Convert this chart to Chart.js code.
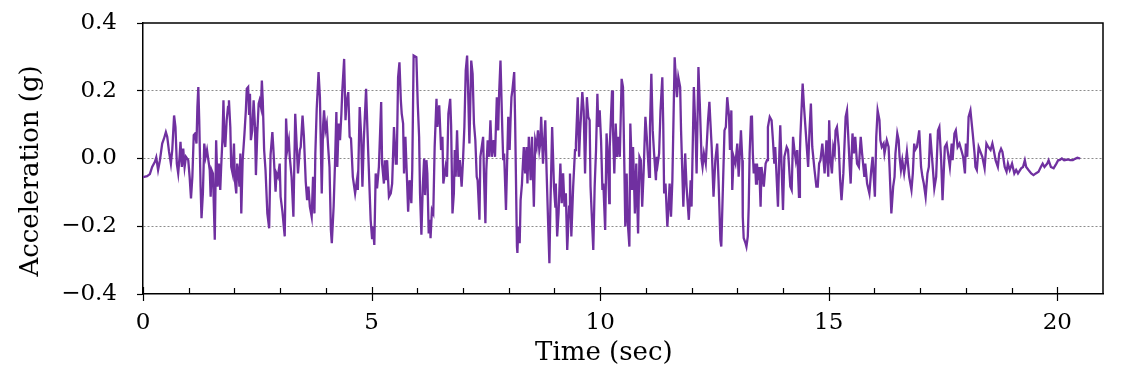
<!DOCTYPE html>
<html><head><meta charset="utf-8">
<script src="https://cdn.jsdelivr.net/npm/chart.js@4.4.1/dist/chart.umd.min.js"></script>
<style>html,body{margin:0;padding:0;background:#fff;}#wrap{width:1134px;height:378px;position:relative;}</style>
</head><body><div id="wrap"><canvas id="c"></canvas></div>
<script>
const timeSec = [
0.00,0.09,0.15,0.20,0.26,0.29,0.33,0.37,0.42,0.46,
0.50,0.53,0.57,0.61,0.64,0.68,0.71,0.74,0.77,0.80,
0.82,0.85,0.88,0.91,0.94,0.99,1.02,1.05,1.08,1.11,
1.14,1.17,1.19,1.21,1.23,1.26,1.28,1.31,1.34,1.37,
1.40,1.43,1.46,1.48,1.50,1.53,1.57,1.60,1.63,1.66,
1.69,1.71,1.74,1.76,1.78,1.80,1.83,1.86,1.88,1.91,
1.93,1.96,1.99,2.01,2.04,2.06,2.09,2.11,2.13,2.15,
2.18,2.22,2.25,2.27,2.30,2.32,2.34,2.36,2.39,2.42,
2.45,2.47,2.50,2.53,2.55,2.58,2.60,2.62,2.65,2.68,
2.72,2.76,2.79,2.83,2.85,2.90,2.92,2.95,2.99,3.01,
3.05,3.10,3.11,3.13,3.16,3.19,3.21,3.25,3.29,3.33,
3.35,3.39,3.43,3.45,3.49,3.52,3.56,3.59,3.62,3.65,
3.69,3.72,3.75,3.77,3.80,3.84,3.87,3.91,3.94,3.96,
3.99,4.02,4.05,4.08,4.11,4.13,4.17,4.20,4.23,4.25,
4.28,4.31,4.34,4.36,4.40,4.43,4.45,4.49,4.52,4.55,
4.59,4.64,4.68,4.70,4.74,4.77,4.80,4.83,4.88,4.91,
4.93,4.98,5.01,5.03,5.06,5.09,5.12,5.16,5.21,5.23,
5.27,5.29,5.31,5.34,5.38,5.42,5.45,5.49,5.53,5.55,
5.58,5.61,5.64,5.66,5.69,5.71,5.74,5.77,5.80,5.83,
5.87,5.89,5.92,5.98,6.01,6.04,6.06,6.09,6.12,6.15,
6.17,6.20,6.22,6.25,6.28,6.29,6.32,6.35,6.38,6.42,
6.44,6.48,6.52,6.55,6.57,6.62,6.65,6.68,6.72,6.74,
6.77,6.80,6.82,6.84,6.87,6.90,6.93,6.97,7.00,7.03,
7.06,7.09,7.11,7.14,7.18,7.21,7.24,7.27,7.30,7.32,
7.36,7.38,7.44,7.46,7.49,7.51,7.54,7.57,7.60,7.63,
7.67,7.70,7.74,7.77,7.79,7.82,7.86,7.88,7.90,7.94,
7.97,7.99,8.02,8.04,8.06,8.08,8.12,8.14,8.18,8.19,
8.21,8.24,8.26,8.29,8.30,8.33,8.36,8.39,8.41,8.44,
8.48,8.51,8.55,8.58,8.61,8.64,8.67,8.69,8.71,8.75,
8.80,8.83,8.86,8.89,8.91,8.95,8.99,9.02,9.03,9.06,
9.09,9.13,9.16,9.19,9.22,9.25,9.28,9.32,9.34,9.37,
9.41,9.45,9.47,9.51,9.54,9.56,9.61,9.64,9.67,9.71,
9.74,9.77,9.79,9.85,9.88,9.91,9.94,9.96,9.99,10.02,
10.05,10.07,10.11,10.14,10.17,10.20,10.21,10.26,10.28,10.31,
10.34,10.37,10.40,10.43,10.47,10.50,10.53,10.55,10.58,10.60,
10.64,10.66,10.69,10.70,10.72,10.76,10.79,10.83,10.86,10.89,
10.92,10.95,10.99,11.02,11.07,11.09,11.12,11.15,11.18,11.22,
11.24,11.26,11.29,11.32,11.36,11.38,11.40,11.43,11.47,11.50,
11.52,11.55,11.58,11.63,11.65,11.68,11.71,11.75,11.77,11.82,
11.86,11.89,11.94,11.98,12.00,12.05,12.09,12.11,12.15,12.18,
12.22,12.24,12.27,12.31,12.36,12.39,12.41,12.44,12.48,12.52,
12.56,12.59,12.63,12.65,12.72,12.75,12.78,12.82,12.84,12.87,
12.89,12.92,12.96,13.00,13.03,13.08,13.11,13.12,13.14,13.18,
13.20,13.23,13.25,13.27,13.30,13.32,13.34,13.36,13.39,13.41,
13.43,13.46,13.48,13.51,13.53,13.58,13.62,13.65,13.67,13.71,
13.75,13.78,13.81,13.83,13.89,13.92,13.94,14.00,14.03,14.08,
14.11,14.16,14.19,14.22,14.25,14.28,14.31,14.35,14.37,14.38,
14.43,14.46,14.50,14.55,14.58,14.61,14.64,14.69,14.73,14.76,
14.79,14.82,14.86,14.91,14.95,14.99,15.01,15.04,15.07,15.10,
15.13,15.15,15.18,15.22,15.25,15.28,15.32,15.37,15.40,15.46,
15.48,15.52,15.55,15.58,15.62,15.66,15.70,15.73,15.78,15.80,
15.84,15.89,15.93,15.96,16.01,16.04,16.07,16.11,16.13,16.16,
16.20,16.22,16.27,16.31,16.33,16.37,16.41,16.44,16.46,16.50,
16.53,16.55,16.58,16.61,16.65,16.68,16.71,16.76,16.81,16.84,
16.87,16.89,16.93,16.98,17.02,17.05,17.08,17.12,17.16,17.19,
17.22,17.27,17.31,17.35,17.39,17.42,17.46,17.49,17.54,17.58,
17.65,17.69,17.71,17.75,17.78,17.82,17.86,17.90,17.94,17.98,
18.00,18.03,18.06,18.10,18.15,18.19,18.21,18.24,18.28,18.36,
18.41,18.45,18.49,18.54,18.58,18.61,18.65,18.70,18.73,18.77,
18.80,18.85,18.89,18.92,18.96,19.01,19.06,19.10,19.14,19.21,
19.25,19.29,19.32,19.37,19.43,19.48,19.53,19.59,19.64,19.68,
19.72,19.78,19.81,19.86,19.92,19.98,20.02,20.05,20.10,20.15,
20.23,20.28,20.34,20.39,20.44,20.50
];
const accelG = [
-0.055,-0.052,-0.046,-0.025,-0.010,0.003,-0.034,-0.005,0.044,0.059,
0.078,0.064,0.020,-0.015,0.025,0.127,0.093,-0.015,-0.044,0.005,
0.049,-0.025,0.029,-0.025,0.005,-0.005,-0.054,-0.118,-0.054,0.069,
0.074,0.044,0.152,0.211,0.113,-0.083,-0.176,-0.103,0.044,0.005,
0.025,-0.005,-0.034,-0.113,-0.034,-0.044,-0.240,0.054,-0.083,-0.015,
-0.093,-0.025,0.064,0.172,0.054,0.034,0.113,0.152,0.172,0.093,
-0.025,-0.044,0.044,-0.064,-0.103,-0.015,-0.044,-0.083,0.015,-0.162,
-0.005,0.074,0.142,0.206,0.211,0.132,0.191,0.054,0.083,0.172,
0.093,-0.049,0.074,0.162,0.172,0.152,0.230,0.172,0.025,-0.034,
-0.162,-0.206,0.010,0.078,0.034,-0.098,-0.044,-0.054,-0.015,-0.113,
-0.157,-0.230,-0.142,0.118,0.029,0.054,0.005,-0.054,-0.172,0.132,
0.074,-0.044,0.025,0.034,0.127,0.064,-0.069,-0.123,-0.083,-0.142,
-0.172,-0.054,-0.162,0.015,0.147,0.255,0.181,-0.103,0.098,0.142,
0.083,0.103,0.034,-0.025,-0.211,-0.250,-0.142,-0.015,0.137,-0.025,
0.103,0.054,0.132,0.201,0.294,0.113,0.162,0.196,0.064,0.059,
-0.054,-0.103,-0.064,-0.093,0.152,0.074,-0.083,0.054,0.206,0.083,
0.005,-0.181,-0.235,-0.201,-0.255,-0.044,-0.088,-0.025,0.167,-0.015,
-0.074,-0.005,-0.064,-0.005,-0.113,-0.103,-0.074,0.093,-0.015,-0.015,
0.240,0.284,0.172,0.132,0.103,-0.044,0.064,-0.044,-0.157,-0.064,
-0.132,-0.034,0.304,0.299,0.162,0.064,-0.103,-0.225,-0.083,0.000,
-0.108,-0.005,-0.044,-0.221,-0.181,-0.235,-0.152,-0.162,0.034,0.176,
0.093,0.157,0.025,0.064,-0.074,-0.025,-0.054,0.132,0.176,0.098,
-0.162,-0.103,0.025,-0.054,0.083,-0.054,-0.005,-0.083,-0.005,0.093,
0.260,0.304,0.211,0.044,0.289,0.250,0.103,0.054,-0.054,-0.064,
-0.181,0.005,0.064,-0.054,-0.191,-0.034,0.054,0.005,0.113,0.005,
0.054,0.005,0.181,0.083,0.191,0.289,0.083,-0.005,0.015,-0.152,
0.015,0.123,0.025,0.113,0.181,0.201,0.255,0.113,-0.260,-0.279,
-0.201,-0.250,-0.123,-0.074,-0.044,0.034,-0.044,0.034,-0.074,0.064,
-0.064,0.064,-0.142,0.054,0.034,0.083,0.025,0.044,0.123,-0.015,
0.113,-0.044,-0.181,-0.309,-0.152,0.093,-0.083,-0.142,-0.074,-0.230,
-0.162,-0.015,-0.132,-0.044,-0.142,-0.103,-0.270,-0.142,-0.044,-0.230,
-0.083,0.025,0.044,0.181,0.005,0.074,0.196,0.142,-0.044,0.181,
0.123,0.113,-0.083,-0.270,-0.083,0.025,0.191,0.093,0.142,0.054,
-0.093,-0.074,-0.211,0.074,-0.005,-0.132,0.034,0.201,0.093,-0.044,
0.103,0.005,0.064,0.005,0.235,0.211,-0.025,-0.201,-0.044,-0.181,
-0.260,0.103,-0.015,-0.093,0.034,-0.162,-0.015,-0.221,0.005,-0.005,
-0.142,-0.044,0.123,0.064,-0.054,0.093,0.250,0.083,0.015,-0.064,
0.005,-0.015,0.015,0.142,0.240,0.103,-0.103,-0.074,-0.201,-0.132,
-0.074,-0.172,-0.064,0.299,0.250,0.181,0.240,0.211,0.083,-0.142,
0.015,-0.083,-0.181,-0.064,-0.142,0.211,0.064,-0.044,0.270,0.162,
-0.005,-0.025,0.015,-0.015,0.113,0.167,0.113,0.034,-0.113,-0.005,
0.044,-0.064,-0.240,-0.260,0.083,0.093,0.181,0.123,0.025,0.142,
-0.093,0.005,-0.015,0.044,-0.054,0.083,-0.005,-0.172,-0.235,-0.250,
-0.260,-0.230,-0.142,0.015,0.123,0.127,0.015,-0.044,-0.015,-0.074,
-0.015,-0.064,-0.025,-0.142,-0.025,-0.083,-0.015,-0.005,0.093,0.123,
0.113,0.054,-0.015,0.034,-0.142,0.015,0.098,-0.152,0.005,0.034,
0.025,-0.083,-0.093,0.064,0.025,-0.005,0.025,-0.113,0.015,0.064,
0.221,0.152,0.074,-0.025,0.083,0.162,0.034,-0.034,-0.083,-0.083,
-0.015,-0.005,0.044,-0.044,0.054,-0.054,0.113,-0.005,-0.044,0.034,
0.015,0.083,0.093,0.034,-0.064,-0.123,-0.044,0.123,0.142,-0.025,
-0.074,0.074,0.015,0.064,-0.015,-0.025,0.064,0.015,-0.054,-0.015,
-0.074,-0.103,-0.034,0.005,-0.113,0.064,0.142,0.113,0.054,0.034,
0.044,0.015,0.054,0.034,-0.025,-0.162,-0.083,-0.054,0.015,0.074,
0.054,0.005,-0.034,-0.005,-0.044,-0.015,0.020,-0.054,-0.093,-0.044,
0.044,0.025,0.034,0.083,-0.025,-0.054,-0.074,-0.113,-0.044,-0.025,
0.074,-0.015,-0.088,-0.054,0.083,0.093,-0.005,-0.123,0.034,0.044,
-0.025,0.044,-0.005,0.074,0.083,0.034,0.044,0.025,0.005,-0.044,
0.044,0.005,0.123,0.142,0.074,0.015,-0.025,-0.034,0.034,0.005,
-0.029,0.044,0.034,0.025,0.044,0.025,-0.005,-0.025,0.015,0.029,
0.020,-0.025,-0.039,-0.015,-0.034,-0.015,-0.044,-0.034,-0.044,-0.029,
-0.025,-0.005,-0.025,-0.034,-0.044,-0.049,-0.044,-0.039,-0.025,-0.015,
-0.025,-0.015,-0.005,-0.025,-0.029,-0.015,-0.005,-0.005,0.000,-0.005,
-0.003,-0.005,-0.005,-0.001,0.002,0.000
];
const xTickValues = [0, 5, 10, 15, 20];
const yTickValues = [-0.4, -0.2, 0, 0.2, 0.4];
const xAxisTitle = 'Time (sec)';
const yAxisTitle = 'Acceleration (g)';

const n = Math.min(timeSec.length, accelG.length);
const points = [];
for (let i = 0; i < n; i++) points.push({x: timeSec[i], y: accelG[i]});

Chart.defaults.font.family = "'DejaVu Serif', serif";
Chart.defaults.font.size = 23;
Chart.defaults.color = '#000';

const frameAndTicks = {
  id: 'frameAndTicks',
  afterDraw(chart) {
    const {ctx, chartArea: a, scales: {x}} = chart;
    ctx.save();
    ctx.strokeStyle = '#000';
    ctx.lineWidth = 1.5;
    ctx.beginPath();
    ctx.moveTo(a.left, a.top); ctx.lineTo(a.right, a.top); ctx.lineTo(a.right, a.bottom);
    ctx.stroke();
    ctx.lineWidth = 1.2;
    for (let t = 0; t <= 20; t++) {
      const px = Math.round(x.getPixelForValue(t)) + 0.5;
      ctx.beginPath();
      if (xTickValues.includes(t)) { ctx.moveTo(px, a.bottom - 7); ctx.lineTo(px, a.bottom + 7); }
      else { ctx.moveTo(px, a.bottom - 6); ctx.lineTo(px, a.bottom); }
      ctx.stroke();
    }
    ctx.restore();
  }
};

new Chart(document.getElementById('c'), {
  type: 'line',
  data: { datasets: [{ data: points, borderColor: '#7030A0', borderWidth: 2.3, pointRadius: 0, tension: 0, fill: false }] },
  options: {
    responsive: true, maintainAspectRatio: false, animation: false,
    layout: { padding: { top: 23, right: 31, left: 0, bottom: 0 } },
    plugins: { legend: { display: false }, tooltip: { enabled: false } },
    scales: {
      x: {
        type: 'linear', min: 0, max: 21,
        afterFit(s) { s.height = 84; s.paddingLeft = 0; s.paddingRight = 0; },
        afterBuildTicks(s) { s.ticks = xTickValues.map(v => ({value: v})); },
        ticks: { includeBounds: false, padding: 15, maxRotation: 0, callback: v => String(v) },
        grid: { display: false, drawTicks: false },
        border: { display: true, color: '#000', width: 1.5 },
        title: { display: true, text: xAxisTitle + '\u00a0\u00a0\u00a0\u00a0\u2009', font: { size: 26 }, padding: { top: 0, bottom: 9.5 } }
      },
      y: {
        min: -0.4, max: 0.4,
        afterFit(s) { s.width = 143; s.paddingTop = 0; s.paddingBottom = 0; },
        afterBuildTicks(s) { s.ticks = yTickValues.map(v => ({value: v})); },
        ticks: { padding: 20, callback: v => (Math.abs(v) < 1e-9 ? '0.0' : (v < 0 ? '\u2212' + Math.abs(v).toFixed(1) : v.toFixed(1))) },
        grid: {
          color: c => (Math.abs(Math.abs(c.tick.value) - 0.4) < 1e-9 ? 'rgba(0,0,0,0)' : '#8c8c8c'),
          lineWidth: 1, drawTicks: true, tickLength: 6, tickColor: '#000', tickWidth: 1.2
        },
        border: { display: true, color: '#000', width: 1.5, dash: [2, 2] },
        title: { display: true, text: yAxisTitle + '\u00a0\u00a0\u00a0', font: { size: 26 }, padding: { top: 16, bottom: 0 } }
      }
    }
  },
  plugins: [frameAndTicks]
});
</script>
</body></html>
